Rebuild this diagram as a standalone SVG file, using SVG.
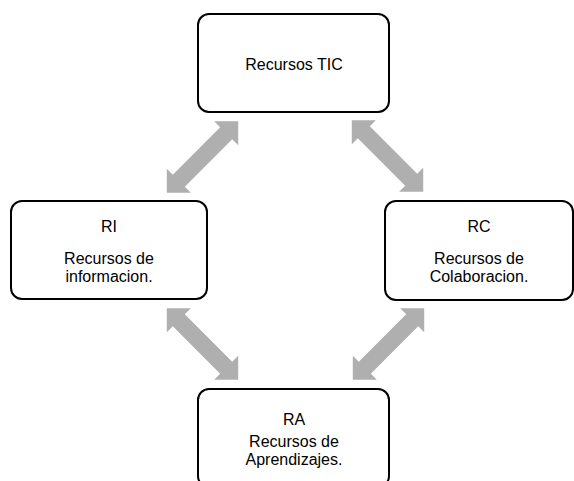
<svg xmlns="http://www.w3.org/2000/svg" xmlns:xlink="http://www.w3.org/1999/xlink" width="574" height="481" viewBox="0 0 574 481">
  <style>
    .box { fill: #ffffff; stroke: #000000; stroke-width: 2; }
    .t { font-family: "Liberation Sans", Arial, sans-serif; font-size: 16px; fill: #000000; text-anchor: middle; }
    .arr { fill: #AFAFAF; }
  </style>
  <defs>
    <polygon id="dbl" points="-50.5,0 -33.5,-17 -33.5,-8.5 33.5,-8.5 33.5,-17 50.5,0 33.5,17 33.5,8.5 -33.5,8.5 -33.5,17"/>
  </defs>
  <rect width="574" height="481" fill="#ffffff"/>
  <g id="connectors">
    <use xlink:href="#dbl" class="arr" transform="translate(202.5,157) rotate(-45)"/>
    <use xlink:href="#dbl" class="arr" transform="translate(387.5,156) rotate(45)"/>
    <use xlink:href="#dbl" class="arr" transform="translate(202.5,344) rotate(45)"/>
    <use xlink:href="#dbl" class="arr" transform="translate(388.5,344) rotate(-45)"/>
  </g>
  <g id="node-tic">
    <rect class="box" x="198" y="14" width="191" height="98" rx="11"/>
    <text class="t" x="294" y="70">Recursos TIC</text>
  </g>
  <g id="node-ri">
    <rect class="box" x="11" y="201" width="196" height="98" rx="11"/>
    <text class="t" x="109" y="232">RI</text>
    <text class="t" x="109" y="264">Recursos de</text>
    <text class="t" x="109" y="282">informacion.</text>
  </g>
  <g id="node-rc">
    <rect class="box" x="385" y="201" width="188" height="99" rx="11"/>
    <text class="t" x="479" y="232">RC</text>
    <text class="t" x="479" y="264">Recursos de</text>
    <text class="t" x="479" y="282">Colaboracion.</text>
  </g>
  <g id="node-ra">
    <rect class="box" x="198" y="389" width="191" height="98" rx="11"/>
    <text class="t" x="294" y="425">RA</text>
    <text class="t" x="294" y="447">Recursos de</text>
    <text class="t" x="294" y="465">Aprendizajes.</text>
  </g>
</svg>
